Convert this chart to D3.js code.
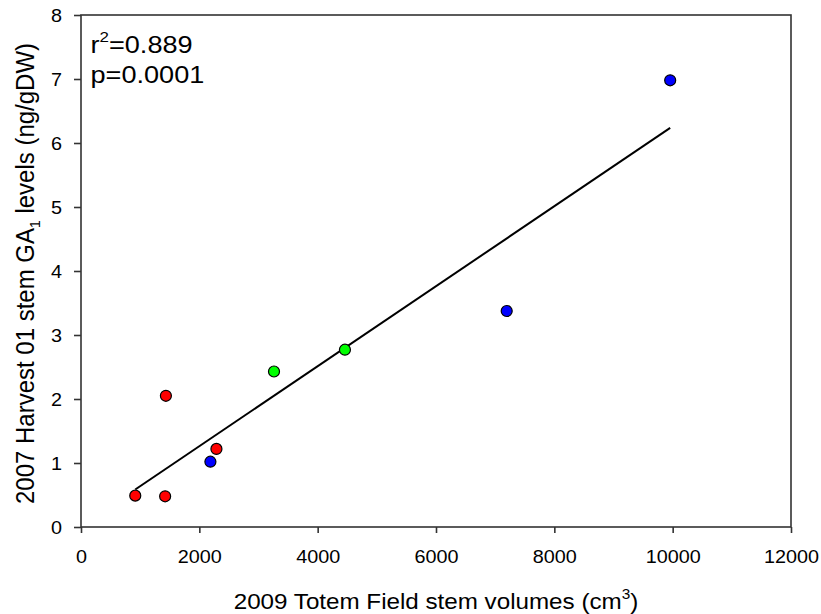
<!DOCTYPE html>
<html>
<head>
<meta charset="utf-8">
<script src="https://cdn.jsdelivr.net/npm/d3@7"></script>
<style>
  body { margin: 0; background: #fff; }
  text { font-family: "Liberation Sans", Arial, Helvetica, sans-serif; fill: #000; }
</style>
</head>
<body>
<svg id="chart" width="821" height="614"></svg>
<script>
// Stem volume (cm3) vs GA1 level (ng/gDW), grouped by marker colour
const redVolumes   = [917, 1422, 1435, 2289];
const redLevels    = [0.49, 0.48, 2.05, 1.22];
const blueVolumes  = [2187, 7195, 9958];
const blueLevels   = [1.02, 3.375, 6.98];
const greenVolumes = [3262, 4461];
const greenLevels  = [2.43, 2.77];

const xTicks = [0, 2000, 4000, 6000, 8000, 10000, 12000];
const yTicks = [0, 1, 2, 3, 4, 5, 6, 7, 8];

const statR2 = "0.889";
const statP = "0.0001";

const groups = [
  { color: "#ff0000", xs: redVolumes,   ys: redLevels },
  { color: "#0000ff", xs: blueVolumes,  ys: blueLevels },
  { color: "#00ff00", xs: greenVolumes, ys: greenLevels }
];

const svg = d3.select("#chart");
const plot = { left: 81, right: 791, top: 15, bottom: 527 };
const SX = 1.1;            // horizontal text stretch
const axisColor = "#333";
const FONT = '"Liberation Sans", Arial, sans-serif';

const x = d3.scaleLinear().domain([0, 12000]).range([plot.left, plot.right]);
const y = d3.scaleLinear().domain([0, 8]).range([plot.bottom, plot.top]);

// frame
svg.append("rect")
  .attr("x", plot.left).attr("y", plot.top)
  .attr("width", plot.right - plot.left).attr("height", plot.bottom - plot.top)
  .attr("fill", "none").attr("stroke", axisColor).attr("stroke-width", 1.6);

// x axis
const xAxis = svg.append("g").attr("transform", `translate(0,${plot.bottom})`)
  .call(d3.axisBottom(x).tickValues(xTicks).tickSize(6).tickFormat(d3.format("d")));
xAxis.select(".domain").remove();
xAxis.selectAll(".tick line").attr("stroke", axisColor).attr("stroke-width", 1.6);
xAxis.selectAll(".tick text")
  .attr("font-size", 18).attr("font-family", FONT)
  .attr("fill", "#000").attr("y", 0).attr("dy", null)
  .attr("transform", `translate(0,35.5) scale(${SX},1)`);

// y axis
const yAxis = svg.append("g").attr("transform", `translate(${plot.left},0)`)
  .call(d3.axisLeft(y).tickValues(yTicks).tickSize(7).tickFormat(d3.format("d")));
yAxis.select(".domain").remove();
yAxis.selectAll(".tick line").attr("stroke", axisColor).attr("stroke-width", 1.6);
yAxis.selectAll(".tick text")
  .attr("font-size", 18).attr("font-family", FONT)
  .attr("fill", "#000").attr("x", 0).attr("dy", "0.35em")
  .attr("transform", `translate(-19,0) scale(${SX},1)`);

// least-squares regression over all points
const allX = [].concat(...groups.map(g => g.xs));
const allY = [].concat(...groups.map(g => g.ys));
const mx = d3.mean(allX), my = d3.mean(allY);
const sxy = d3.sum(allX, (v, i) => (v - mx) * (allY[i] - my));
const sxx = d3.sum(allX, v => (v - mx) * (v - mx));
const slope = sxy / sxx;
const intercept = my - slope * mx;
const [xmin, xmax] = d3.extent(allX);

svg.append("path")
  .datum([xmin, xmax])
  .attr("d", d3.line().x(d => x(d)).y(d => y(intercept + slope * d)))
  .attr("fill", "none").attr("stroke", "#000").attr("stroke-width", 2);

// points
groups.forEach(g => {
  svg.append("g").selectAll("circle")
    .data(g.xs.map((v, i) => [v, g.ys[i]]))
    .join("circle")
    .attr("cx", d => x(d[0])).attr("cy", d => y(d[1]))
    .attr("r", 5.5)
    .attr("fill", g.color).attr("stroke", "#000").attr("stroke-width", 1.2);
});

// statistics annotation
const r2 = svg.append("text").attr("font-size", 24)
  .attr("transform", `translate(90.5,53) scale(1.13,1)`);
r2.append("tspan").text("r");
r2.append("tspan").attr("font-size", 15).attr("dy", -11).text("2");
r2.append("tspan").attr("dy", 11).text("=" + statR2);

svg.append("text").attr("font-size", 24)
  .attr("transform", `translate(90.5,83) scale(1.13,1)`)
  .text("p=" + statP);

// x axis title
const xt = svg.append("text").attr("font-size", 22).attr("text-anchor", "middle")
  .attr("transform", `translate(${(plot.left + plot.right) / 2},609) scale(${SX},1)`);
xt.append("tspan").text("2009 Totem Field stem volumes (cm");
xt.append("tspan").attr("font-size", 14).attr("dy", -10).text("3");
xt.append("tspan").attr("dy", 10).text(")");

// y axis title
const yt = svg.append("text").attr("font-size", 24).attr("text-anchor", "middle")
  .attr("transform", `translate(34,273.5) scale(${SX},1) rotate(-90)`);
yt.append("tspan").text("2007 Harvest 01 stem GA");
yt.append("tspan").attr("font-size", 14).attr("dy", 5).text("1");
yt.append("tspan").attr("dy", -5).text(" levels (ng/gDW)");
</script>
</body>
</html>
